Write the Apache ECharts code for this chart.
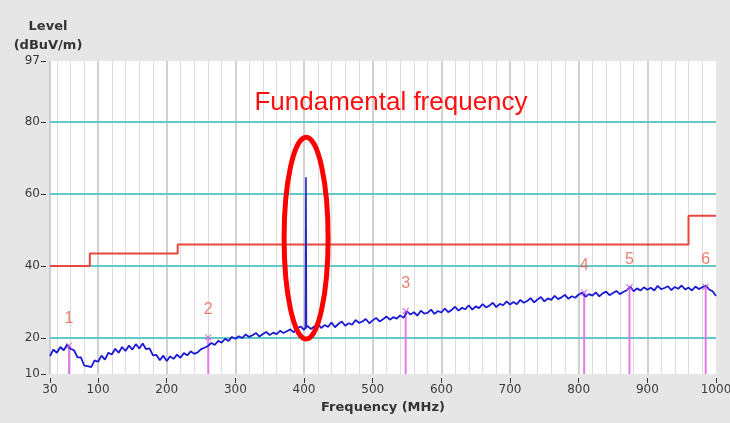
<!DOCTYPE html>
<html><head><meta charset="utf-8">
<script src="https://cdn.jsdelivr.net/npm/echarts@6/dist/echarts.min.js"></script>
<style>html,body{margin:0;padding:0;background:#e6e6e6}#c{width:730px;height:423px}</style>
</head><body><div id="c"></div>
<script>
const xTickLabels = [30,100,200,300,400,500,600,700,800,900,1000];
const yTickLabels = [10,20,40,60,80,97];
const yGridLevels = [20,40,60,80];
const traceStartMHz = 30, traceStepMHz = 5;
const traceLevels = [
 15.0,16.8,15.9,17.5,16.6,18.2,17.0,16.6,14.6,14.6,12.3,12.2,11.9,13.8,13.4,
 15.1,14.0,15.9,15.4,17.0,15.9,17.5,16.4,17.9,16.8,18.3,17.1,18.5,16.9,17.1,15.2,15.3,13.8,15.1,13.6,
 14.9,14.2,15.4,14.5,15.8,15.2,16.3,15.6,16.0,16.9,17.3,17.8,18.6,18.1,19.2,18.7,19.8,19.2,20.3,19.8,
 20.5,20.0,21.0,20.3,20.8,21.4,20.4,21.1,21.7,20.8,21.5,21.1,22.0,21.4,21.9,22.4,21.6,22.7,23.2,22.3,
 23.4,22.5,23.2,24.0,22.8,23.6,23.1,24.3,23.0,23.9,24.6,23.4,24.1,23.7,25.0,24.2,24.6,25.3,24.1,24.9,
 25.6,24.6,25.2,26.0,25.1,25.8,25.4,26.3,25.6,27.4,26.5,27.2,26.2,27.6,26.8,27.0,27.9,26.7,27.5,27.1,
 28.2,27.2,27.8,28.7,27.6,28.4,28.0,29.1,27.9,28.8,28.3,29.4,28.5,29.0,29.8,28.6,29.5,29.1,30.2,29.3,
 30.0,29.4,30.6,29.8,30.3,31.1,29.9,30.7,31.4,30.2,31.0,30.6,31.7,30.8,31.3,32.0,30.9,31.6,31.2,32.1,
 32.6,31.5,32.2,31.8,32.7,31.6,32.4,32.9,31.9,32.5,33.1,32.2,32.8,33.3,34.3,33.0,33.8,33.2,34.1,33.4,
 34.0,33.2,34.5,33.6,33.9,34.4,33.3,34.2,33.7,34.6,33.5,34.0,33.2,34.3,33.6,34.1,34.6,33.5,33.0,31.7
];
const spikeFreqs = [402.0, 402.3, 402.8, 403.2, 403.5];
const spikeLevels = [22.6, 39.0, 64.7, 39.0, 22.9];
const limitFreqs = [30, 88, 88, 216, 216, 960, 960, 1000];
const limitLevels = [40, 40, 43.5, 43.5, 46, 46, 54, 54];
const markerFreqs = [57.7, 260.5, 548, 808, 874, 985];
const markerLevels = [17.8, 20.2, 27.5, 32.6, 34.1, 34.2];
const markerLabels = ['1','2','3','4','5','6'];

const traceData = traceLevels.map((v,i)=>[traceStartMHz + i*traceStepMHz, v]);
const spikeData = spikeFreqs.map((f,i)=>[f, spikeLevels[i]]);
const limitData = limitFreqs.map((f,i)=>[f, limitLevels[i]]);
const markerData = markerFreqs.map((f,i)=>[f, markerLevels[i]]);

const minorX = [], majorX = [];
for (let f = 40; f < 1000; f += 20) { if (f % 100 !== 0) minorX.push({xAxis:f}); }
for (let f = 100; f < 1000; f += 100) majorX.push({xAxis:f});

const chart = echarts.init(document.getElementById('c'), null, {renderer:'canvas'});
const FONT = 'DejaVu Sans';
const gridLine = (z, color, width, data)=>({type:'line', data:[], z:z, silent:true,
  markLine:{z:z, silent:true, symbol:['none','none'], label:{show:false}, animation:false,
    lineStyle:{type:'solid', color:color, width:width}, data:data}});
chart.setOption({
  animation:false,
  backgroundColor:'#e6e6e6',
  title:{text:'Level\n(dBuV/m)', left:43, top:12, textAlign:'center',
    textStyle:{fontFamily:FONT, fontWeight:'bold', fontSize:13, color:'#333', lineHeight:19}},
  grid:{left:50, right:14, top:61, bottom:49, show:true, backgroundColor:'#fff', borderWidth:0,
    containLabel:false, outerBoundsMode:'none'},
  xAxis:{type:'value', min:30, max:1000, offset:4,
    axisLine:{show:false},
    axisTick:{show:true, length:5, customValues:xTickLabels, lineStyle:{color:'#333', width:1}},
    axisLabel:{customValues:xTickLabels, formatter:(v)=>String(v), fontFamily:FONT, fontSize:12, color:'#3a3a3a', margin:6},
    splitLine:{show:false},
    name:'Frequency (MHz)', nameLocation:'middle', nameGap:23,
    nameTextStyle:{fontFamily:FONT, fontWeight:'bold', fontSize:13, color:'#333'}},
  yAxis:{type:'value', min:10, max:97, offset:4,
    axisLine:{show:false},
    axisTick:{show:true, length:5, customValues:yTickLabels, lineStyle:{color:'#333', width:1}},
    axisLabel:{customValues:yTickLabels, fontFamily:FONT, fontSize:12, color:'#3a3a3a', margin:6},
    splitLine:{show:false}},
  series:[
    gridLine(1, '#dcdcdc', 1, minorX),
    gridLine(2, '#c2c2c2', 1.5, majorX.concat([{xAxis:30}])),
    gridLine(3, '#62c9cb', 2, yGridLevels.map(v=>({yAxis:v}))),
    {type:'line', data:limitData, z:4, symbol:'none', lineStyle:{color:'#e8473e', width:2}},
    {type:'custom', z:5, data:markerData,
     renderItem:(params, api)=>{
       const p0 = api.coord([api.value(0), 10]);
       const p1 = api.coord([api.value(0), api.value(1)]);
       return {type:'line', shape:{x1:p0[0], y1:p0[1], x2:p1[0], y2:p1[1]},
         style:{stroke:'#e27be8', lineWidth:2}};
     }},
    {type:'line', data:traceData, z:6, symbol:'none', lineStyle:{color:'#1a1ad6', width:1.8}},
    {type:'line', data:spikeData, z:7, symbol:'none', lineStyle:{color:'#2424c8', width:1.6}},
    {type:'scatter', data:markerData, z:8,
     symbol:'path://M0,0L10,10M10,0L0,10', symbolSize:6,
     itemStyle:{color:'none', borderColor:'#d060e0', borderWidth:1.2},
     label:{show:true, position:'top', distance:14,
       formatter:(p)=>markerLabels[p.dataIndex],
       fontFamily:'Liberation Sans', fontSize:16, color:'#e5604e'}}
  ]
});

const ellC = chart.convertToPixel({gridIndex:0}, [403, 47.8]);
const ellTop = chart.convertToPixel({gridIndex:0}, [403, 75.8]);
const ellBot = chart.convertToPixel({gridIndex:0}, [403, 19.7]);
chart.setOption({
  graphic:[
    {type:'ellipse', z:100, shape:{cx:ellC[0], cy:(ellTop[1]+ellBot[1])/2, rx:22, ry:(ellBot[1]-ellTop[1])/2},
     style:{fill:'none', stroke:'#ff0000', lineWidth:5}},
    {type:'text', z:100, x:391, y:103,
     style:{text:'Fundamental frequency', fill:'#ff1010', font:'26px "Liberation Sans"',
       align:'center', verticalAlign:'middle'}}
  ]
});
</script></body></html>
